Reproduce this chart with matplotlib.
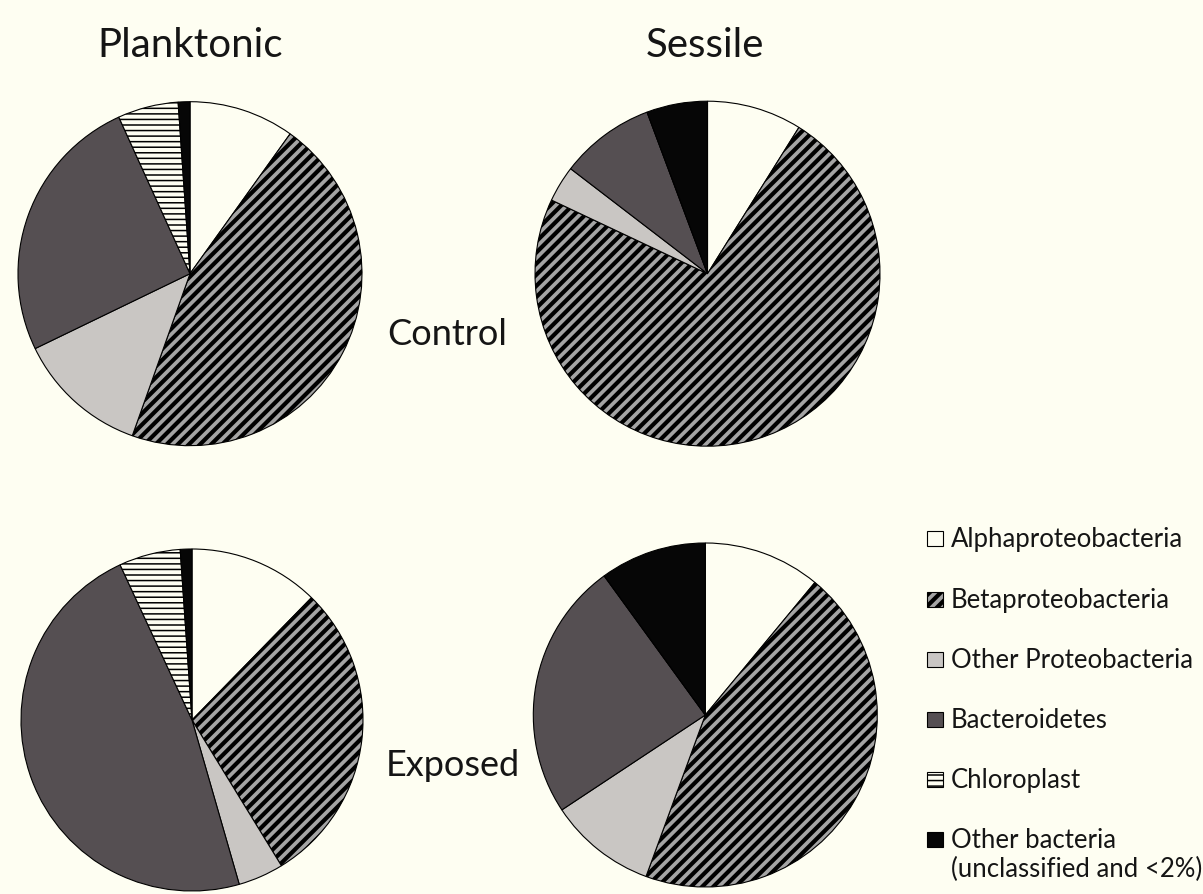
import matplotlib
matplotlib.use("Agg")
import matplotlib.pyplot as plt
from matplotlib.patches import Rectangle

plt.rcParams['font.family'] = ['Lato', 'DejaVu Sans']

categories = ['Alphaproteobacteria', 'Betaproteobacteria', 'Other Proteobacteria',
              'Bacteroidetes', 'Chloroplast', 'Other bacteria\n(unclassified and <2%)']
planktonic_control = [9.9, 45.6, 12.4, 25.4, 5.7, 1.1]
sessile_control = [8.9, 73.2, 3.4, 8.9, 0.0, 5.7]
planktonic_exposed = [12.3, 28.9, 4.3, 47.5, 5.8, 1.1]
sessile_exposed = [11.0, 44.6, 10.1, 24.3, 0.0, 10.0]

bg = '#fefef2'
faces = [bg, '#a4a4a4', '#c9c6c3', '#554f52', bg, '#060606']
hatches = [None, '///', None, None, '---', None]
hatch_lw = [1.0, 3.0, 1.0, 1.0, 1.1, 1.0]
txt = '#151515'

W, H = 1203, 895
fig = plt.figure(figsize=(W / 100, H / 100), dpi=100, facecolor=bg)


def style(p, i):
    p.set_facecolor(faces[i])
    p.set_edgecolor('black')
    p.set_linewidth(0.8)
    if hatches[i]:
        p.set_hatch(hatches[i])
        if hasattr(p, 'set_hatch_linewidth'):
            p.set_hatch_linewidth(hatch_lw[i])


def pie_at(vals, cx, cy, r):
    ax = fig.add_axes([(cx - r) / W, 1 - (cy + r) / H, 2 * r / W, 2 * r / H])
    wedges, _ = ax.pie(vals, startangle=90, counterclock=False, radius=1)
    for i, w in enumerate(wedges):
        style(w, i)
        w.set_clip_on(False)
    ax.set_xlim(-1, 1)
    ax.set_ylim(-1, 1)
    ax.axis('off')


pie_at(planktonic_control, 190, 274.7, 172)
pie_at(sessile_control, 707.5, 274.7, 172.5)
pie_at(planktonic_exposed, 192, 721, 171)
pie_at(sessile_exposed, 705.3, 716, 172)

fig.text(190 / W, 1 - 56.7 / H, 'Planktonic', fontsize=29, ha='center', va='baseline', color=txt)
fig.text(705 / W, 1 - 56.7 / H, 'Sessile', fontsize=29, ha='center', va='baseline', color=txt)
fig.text(447.5 / W, 1 - 345 / H, 'Control', fontsize=26, ha='center', va='baseline', color=txt)
fig.text(452.5 / W, 1 - 776 / H, 'Exposed', fontsize=26, ha='center', va='baseline', color=txt)

# legend, drawn by hand so the marker sits on the first text line
base = [546.7, 608.3, 668.3, 728.3, 788.3, 848.3]
for i, lab in enumerate(categories):
    y0 = base[i]
    box = Rectangle((927 / W, 1 - y0 / H), 16 / W, 15 / H, transform=fig.transFigure)
    style(box, i)
    fig.add_artist(box)
    fig.text(951 / W, 1 - y0 / H, lab.split('\n')[0], fontsize=18.5, ha='left', va='baseline', color=txt)
    if '\n' in lab:
        fig.text(951 / W, 1 - (y0 + 28.4) / H, lab.split('\n')[1], fontsize=18.5, ha='left', va='baseline', color=txt)

fig.savefig('out.png', dpi=100, facecolor=bg)
